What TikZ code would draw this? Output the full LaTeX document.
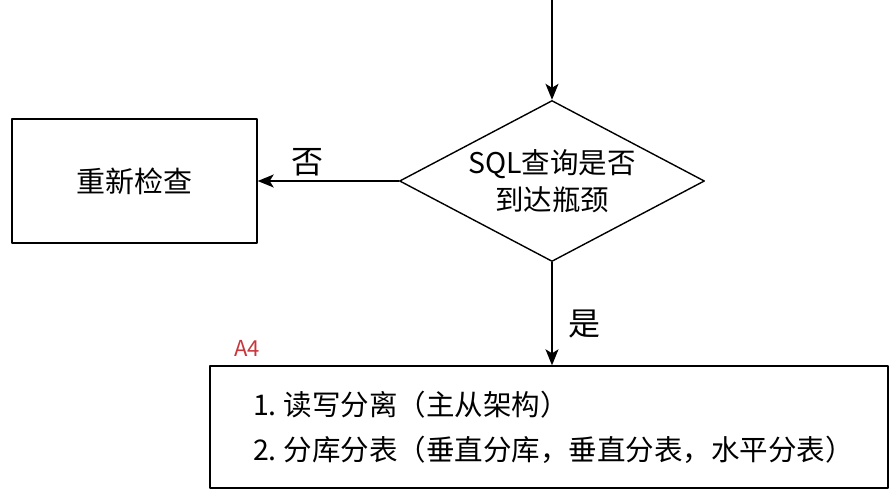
\documentclass[tikz,border=0pt]{standalone}
\usepackage{fontspec}
\setmainfont{Noto Sans CJK SC}
\usetikzlibrary{arrows.meta,shapes.geometric}
\tikzset{
  flow/.style={line width=1.4pt,-{Stealth[length=16pt,width=13pt,inset=4pt]}},
  box/.style={draw,line width=1.4pt,inner sep=0pt},
  lbl/.style={font=\fontsize{32}{32}\selectfont,inner sep=4pt}
}
\begin{document}
\begin{tikzpicture}[line cap=round,line join=round,x=1pt,y=-1pt]
		\useasboundingbox (0,0) rectangle (894,488);
		\fill[white] (0,0) rectangle (894,488);
		\coordinate (top) at (552,0);
		\node[box,diamond,minimum width=305pt,minimum height=161pt,aspect=1.9,
		  align=center,font=\fontsize{28.5}{37}\selectfont] (check) at (552,181) {SQL查询是否\\到达瓶颈};
		\node[box,minimum width=245pt,minimum height=124pt,font=\fontsize{29}{35}\selectfont] (redo) at (134.5,181) {重新检查};
		\node[box,minimum width=678pt,minimum height=122pt,text width=592pt,align=left,
		  font=\fontsize{28.5}{45}\selectfont] (split) at (549,427)
		  {1.\hspace{7pt}读写分离（主从架构）\\2.\hspace{7pt}分库分表（垂直分库，垂直分表，水平分表）};
		\draw[flow] (top) -- (check.north);
		\draw[flow] (check.west) -- node[lbl,above,pos=0.65] (no) {否} (redo.east);
		\draw[flow] (check.south) -- node[lbl,right=12pt,pos=0.6] (yes) {是} (check.south |- split.north);
		\draw[color={rgb,255:red,200;green,55;blue,60}] (247,348) node[font=\fontsize{22}{22}\selectfont] (tag) {A4};
\end{tikzpicture}
\end{document}
